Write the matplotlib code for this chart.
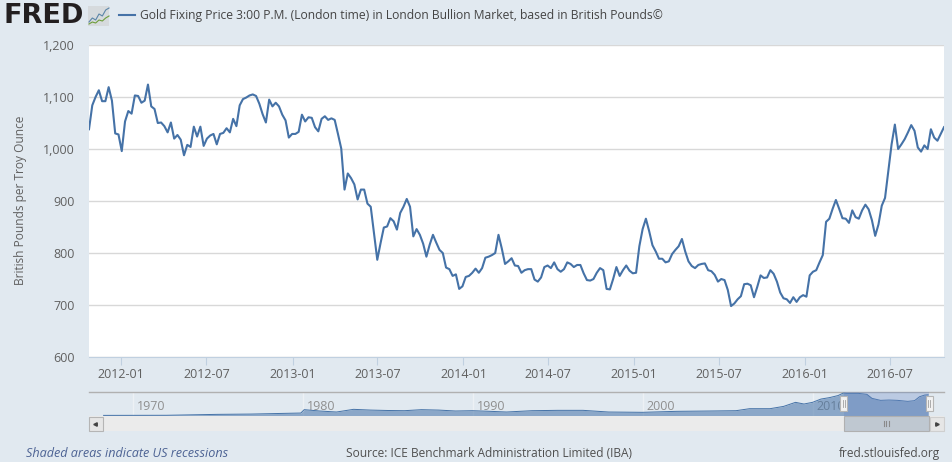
import matplotlib
matplotlib.use('Agg')
import matplotlib.pyplot as plt
import matplotlib.dates as mdates
from matplotlib.patches import Rectangle
from matplotlib.lines import Line2D
import pandas as pd

plt.rcParams['font.family'] = ['Open Sans', 'DejaVu Sans']

W, H = 953, 462
TITLE = 'Gold Fixing Price 3:00 P.M. (London time) in London Bullion Market, based in British Pounds©'
YLABEL = 'British Pounds per Troy Ounce'
NOTE = 'Shaded areas indicate US recessions'
SOURCE = 'Source: ICE Benchmark Administration Limited (IBA)'
SITE = 'fred.stlouisfed.org'

start_week = '2011-10-24'
gold = [1037,1083,1099,1112,1091,1091,1118,1092,1029,1027,995,1052,1072,1067,1102,1101,1088,1092,1123,1081,
        1076,1049,1050,1043,1031,1050,1019,1026,1017,987,1007,1003,1042,1023,1042,1005,1019,1025,1028,1008,
        1028,1030,1039,1031,1057,1043,1083,1095,1098,1102,1104,1101,1086,1066,1050,1094,1081,1088,1081,1065,
        1054,1021,1028,1028,1032,1065,1052,1060,1059,1041,1033,1057,1062,1055,1058,1055,1028,1000,921,952,
        943,931,902,921,921,894,888,837,786,818,848,850,866,860,844,876,888,903,888,831,
        845,834,817,792,815,834,819,805,799,771,768,755,758,730,735,753,755,761,769,761,
        770,790,792,795,799,834,808,778,783,789,775,774,761,766,768,768,748,744,752,772,
        775,770,781,768,763,768,781,778,772,776,776,760,747,746,749,761,770,766,730,729,
        749,772,755,766,775,765,760,761,812,845,865,841,814,802,788,788,781,783,797,805,
        812,826,802,783,774,770,776,778,779,766,764,757,744,749,747,728,697,702,710,716,
        739,740,737,714,734,756,751,752,766,759,744,723,712,710,703,714,705,714,718,715,
        756,763,766,781,795,859,865,884,901,884,866,865,857,881,868,865,881,892,883,862,
        832,854,890,905,957,1008,1046,999,1008,1018,1031,1045,1034,1002,994,1006,999,1037,1021,1015,
        1028,1041]

yticks = [600, 700, 800, 900, 1000, 1100, 1200]
xtick_dates = ['2012-01-01','2012-07-01','2013-01-01','2013-07-01','2014-01-01','2014-07-01',
               '2015-01-01','2015-07-01','2016-01-01','2016-07-01']

nav_years = [1968.3,1972,1975,1977,1979,1979.9,1980.1,1981,1982,1983,1984,1985,1986,1987,1988,1989,1990,1991,1992,
             1993.5,1995,1996.5,1998,2000,2002,2004,2005.5,2006.3,2007.5,2008.3,2009,2009.5,2010,2010.5,2011,
             2011.5,2011.8,2012,2012.7,2013.2,2013.5,2014,2014.5,2015,2015.6,2016,2016.3,2016.6,2016.8]
nav_values = [30,35,80,95,130,145,310,245,195,326,290,270,260,310,290,245,260,230,195,
              260,277,277,195,180,228,245,260,358,358,470,668,587,668,830,900,
              1000,1120,1108,1108,1060,864,766,782,766,717,750,945,1026,1040]
nav_ticks = [1970, 1980, 1990, 2000, 2010]

logo_blue = [2, 4, 3, 6, 5, 8, 9]
logo_green = [1, 2, 1.5, 3, 2.5, 4, 5]

BG = '#e1e9f0'
BLUE = '#4572a7'
TXT = '#606060'

def box(l, t, r, b):
    return [l / W, 1 - b / H, (r - l) / W, (b - t) / H]

fig = plt.figure(figsize=(W / 100, H / 100), dpi=100, facecolor=BG)

# main plot
dates = pd.date_range(start_week, periods=len(gold), freq='7D')
ax = fig.add_axes(box(89, 44.5, 944, 356.5))
ax.plot(dates, gold, color=BLUE, lw=1.5, solid_joinstyle='round', zorder=3)
ax.set_ylim(600, 1200)
ax.set_xlim(dates[0], dates[-1])
ax.set_yticks(yticks)
ax.set_yticklabels([f'{v:,}' for v in yticks], fontsize=9, color=TXT)
ax.set_xticks(pd.to_datetime(xtick_dates))
ax.xaxis.set_major_formatter(mdates.DateFormatter('%Y-%m'))
ax.tick_params(axis='x', length=6, width=0.8, color='#c0d0e0', labelsize=9, labelcolor=TXT, pad=2)
ax.tick_params(axis='y', length=0, pad=10.5)
ax.grid(axis='y', color='#d8d8d8', lw=1)
ax.set_axisbelow(True)
for s in ['top', 'right', 'left']:
    ax.spines[s].set_visible(False)
ax.spines['bottom'].set_color('#c0d0e0')
ax.set_ylabel(YLABEL, fontsize=8.6, color=TXT)
ax.yaxis.set_label_coords((27 - 89) / 855, 0.5)

# navigator
nav = fig.add_axes(box(89, 392, 944, 416))
nav.set_facecolor(BG)
nav.set_xlim(1970 + (89 - 132.5) / 17, 1970 + (944 - 132.5) / 17)
nav.set_ylim(0, 1175)
nav.fill_between(nav_years, nav_values, 0, color=BLUE, alpha=0.55, lw=0, zorder=2)
nav.plot(nav_years, nav_values, color=BLUE, lw=0.7, zorder=3)
nav.set_xticks(nav_ticks)
nav.set_xticklabels([])
nav.set_yticks([])
nav.tick_params(length=0)
nav.grid(axis='x', color='#edf1f5', lw=1)
nav.set_axisbelow(True)
for y in nav_ticks:
    nav.annotate(str(y), (y, 0), xytext=(3, 4), textcoords='offset points', fontsize=9,
                 color='#8f8f8f', zorder=1.5)
for s in ['left', 'right', 'bottom']:
    nav.spines[s].set_visible(False)
nav.spines['top'].set_color('#b0b0b0')
nav.spines['top'].set_linewidth(1)

sel0 = 1970 + (844 - 132.5) / 17
sel1 = 1970 + (929.3 - 132.5) / 17
nav.axvspan(sel0, sel1, color='#6685c2', alpha=0.3, lw=0, zorder=4)

# figure-level pixel canvas for widgets and header
cv = fig.add_axes([0, 0, 1, 1], zorder=10)
cv.set_xlim(0, W); cv.set_ylim(H, 0); cv.axis('off')
cv.patch.set_alpha(0)

cv.add_patch(Rectangle((89, 416), 855, 15, fc='#ebebeb', ec='none'))
cv.add_patch(Rectangle((89, 416.5), 14, 14, fc='#e6e6e6', ec='#b5b5b5', lw=0.8))
cv.add_patch(Rectangle((930, 416.5), 14, 14, fc='#e6e6e6', ec='#cfcfcf', lw=0.8))
cv.add_patch(Rectangle((844, 416), 85.5, 15, fc='#bfc8d1', ec='#b0b0b0', lw=0.8))
cv.plot([95.5], [423.5], marker='<', ms=2.5, color='#444444')
cv.plot([937.5], [423.5], marker='>', ms=2.5, color='#444444')
for dx in (-2.5, 0, 2.5):
    cv.plot([886.5 + dx] * 2, [421, 426], color='#8a8a8a', lw=0.8)
for hx in (844, 929.3):
    cv.add_patch(Rectangle((hx - 3.5, 396), 7, 15, fc='#f2f2f2', ec='#b5b5b5', lw=0.8, zorder=5))
    for dx in (-1, 1):
        cv.plot([hx + dx] * 2, [400, 407], color='#a0a0a0', lw=0.6, zorder=6)

# header
cv.text(4, 16, 'FRED', fontsize=19.5, fontweight='bold', family='DejaVu Sans', color='#231f20', va='center', ha='left')
cv.add_patch(Rectangle((88, 6), 21.5, 20, fc='#d6dadd', ec='none'))
lg = fig.add_axes(box(88, 6, 110, 26), zorder=11)
lg.axis('off'); lg.patch.set_alpha(0); lg.set_ylim(0, 10)
lg.plot(logo_blue, color='#5b85a8', lw=0.8)
lg.plot(logo_green, color='#6e9e3c', lw=0.8)

cv.add_line(Line2D([119, 135], [15, 15], color=BLUE, lw=1.5))
cv.text(140, 15, TITLE, fontsize=8.72, color='#444444', va='center', ha='left')

# footer
cv.text(26, 453.5, NOTE, fontsize=9.1, style='italic', color='#4d6394', va='center', ha='left')
cv.text(346, 453.5, SOURCE, fontsize=8.55, color='#505050', va='center', ha='left')
cv.text(940, 453.5, SITE, fontsize=8.55, color='#505050', va='center', ha='right')

fig.savefig('out.png', dpi=100, facecolor=BG)
